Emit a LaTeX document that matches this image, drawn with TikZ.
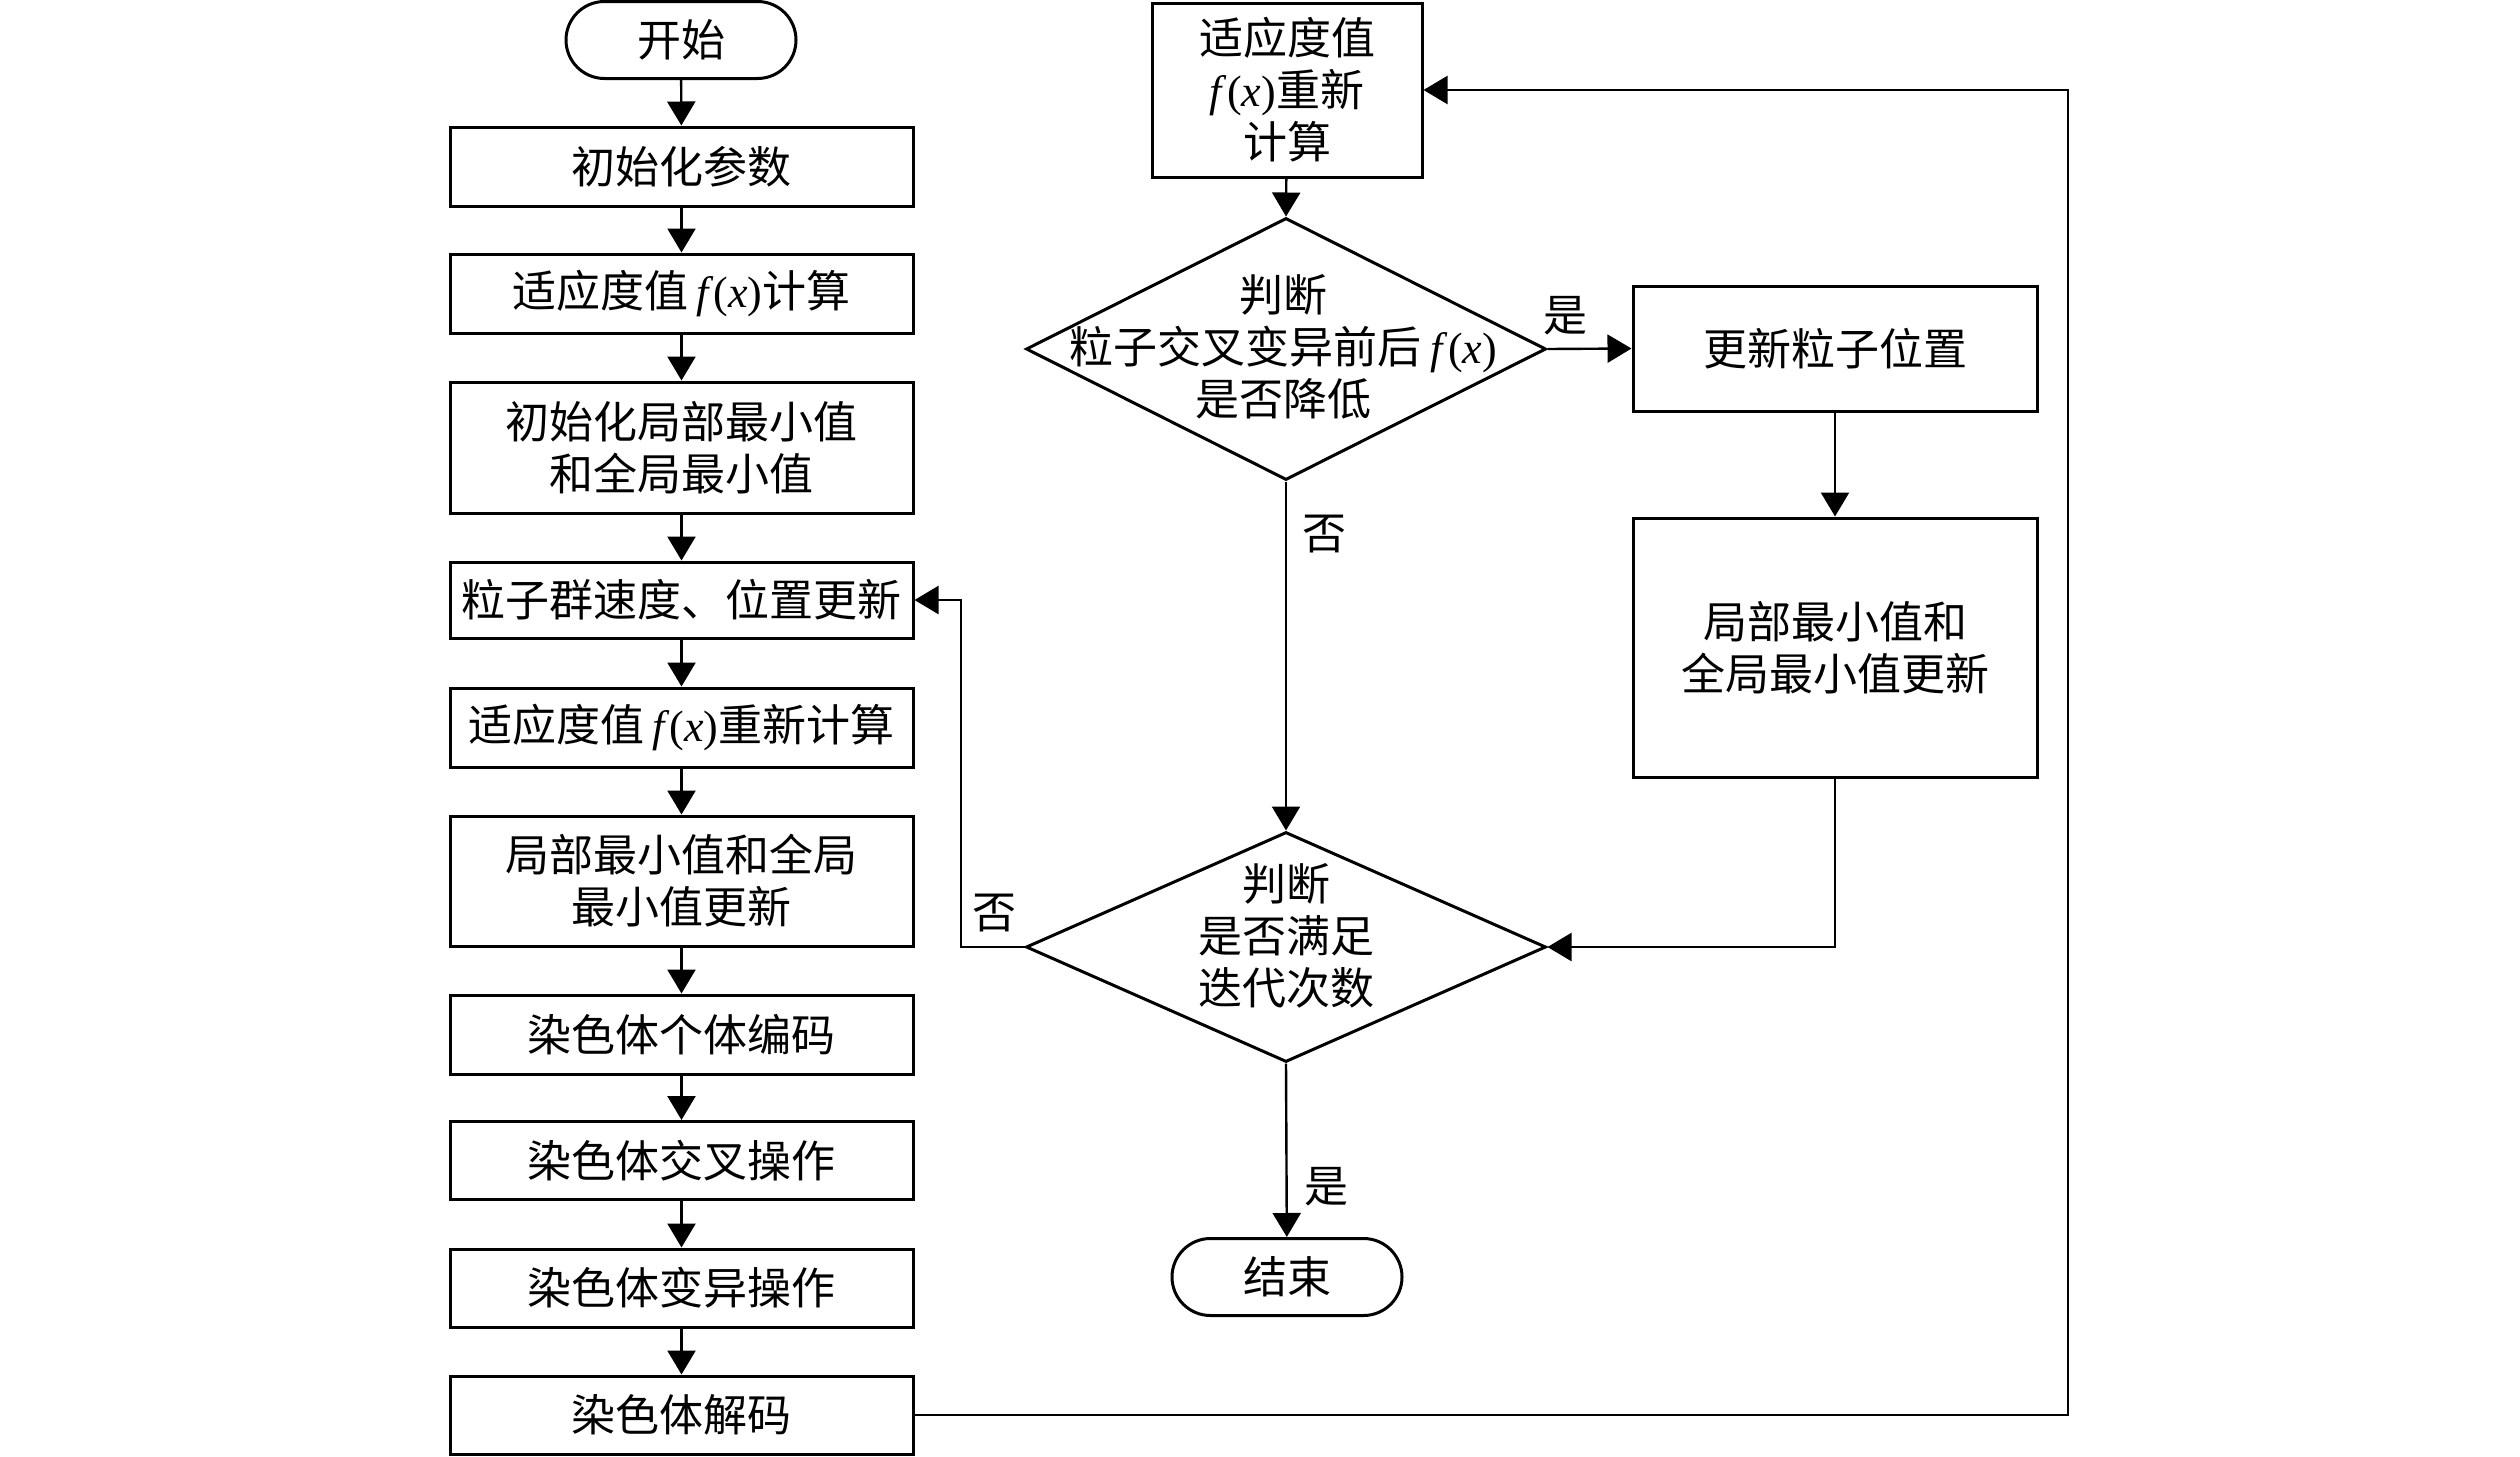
\documentclass[tikz,border=0pt]{standalone}
\usepackage{fontspec}
\setmainfont{Liberation Serif}
\newfontfamily\cjk{Noto Sans CJK SC}
\usetikzlibrary{arrows.meta,shapes.geometric,shapes.misc}
\newcommand{\fxv}{{\rmfamily\itshape f\/}{\rmfamily(}{\rmfamily\itshape x}{\rmfamily)}}
\tikzset{
  txt/.style={font=\fontsize{22pt}{26pt}\selectfont\cjk, align=center, inner sep=0pt},
  box/.style={txt, draw, line width=1.5pt, minimum width=231.5pt},
  term/.style={txt, draw, line width=1.5pt, rounded rectangle, minimum width=115pt, minimum height=38.5pt},
  dia/.style={draw, line width=1.5pt, diamond, inner sep=0pt, minimum width=260pt},
  arr/.style={line width=1.2pt, -{Triangle[length=12pt,width=14pt]}},
  ln/.style={line width=1.2pt}
}
\begin{document}
\begin{tikzpicture}[x=0.5pt,y=-0.5pt]
\fill[white] (0,0) rectangle (2520,1456);
\useasboundingbox (0,0) rectangle (2520,1456);
% left column
\node[term] (start) at (681,40) {开始};
\node[box, minimum height=39.5pt] (b1) at (681.5,166.5) {初始化参数};
\node[box, minimum height=39.5pt] (b2) at (681.5,293.5) {适应度值\,{\fxv}计算};
\node[box, minimum height=65.5pt] (b3) at (681.5,447.5) {初始化局部最小值\\和全局最小值};
\node[box, minimum height=38pt] (b4) at (681.5,600) {粒子群速度、位置更新};
\node[box, minimum height=39.5pt] (b5) at (681.5,727.5) {适应度值\,{\fxv}重新计算};
\node[box, minimum height=65pt] (b6) at (681.5,881) {局部最小值和全局\\最小值更新};
\node[box, minimum height=39.5pt] (b7) at (681.5,1034.5) {染色体个体编码};
\node[box, minimum height=39pt] (b8) at (681.5,1160.5) {染色体交叉操作};
\node[box, minimum height=39pt] (b9) at (681.5,1288) {染色体变异操作};
\node[box, minimum height=39pt] (b10) at (681.5,1415) {染色体解码};
% right part
\node[box, minimum width=135pt, minimum height=87pt] (r0) at (1287,90) {适应度值\\{\fxv}重新\\计算};
\node[dia, minimum height=131pt] (d1) at (1286,349) {};
\node[txt] (d1t) at (1283,347) {判断\\粒子交叉变异前后 {\fxv}\\是否降低};
\node[box, minimum width=202pt, minimum height=62.5pt] (r1) at (1835,348.5) {更新粒子位置};
\node[box, minimum width=202pt, minimum height=129.5pt] (r2) at (1835,647.5) {局部最小值和\\全局最小值更新};
\node[dia, minimum height=115pt] (d2) at (1286,947) {};
\node[txt] (d2t) at (1286,936) {判断\\是否满足\\迭代次数};
\node[term] (end) at (1287,1277) {结束};
\coordinate (lx) at (961,0);
\coordinate (rx) at (2068,0);
% labels
\node[txt] (l1) at (1565,316) {是};
\node[txt] (l2) at (1324,534) {否};
\node[txt] (l3) at (994,913) {否};
\node[txt] (l4) at (1326,1187) {是};
% connectors
\draw[arr] (start) -- (b1);
\draw[arr] (b1) -- (b2);
\draw[arr] (b2) -- (b3);
\draw[arr] (b3) -- (b4);
\draw[arr] (b4) -- (b5);
\draw[arr] (b5) -- (b6);
\draw[arr] (b6) -- (b7);
\draw[arr] (b7) -- (b8);
\draw[arr] (b8) -- (b9);
\draw[arr] (b9) -- (b10);
\draw[arr] (r0) -- (d1.north);
\draw[arr] (d1.east) -- (r1.west);
\draw[arr] (r1) -- (r2);
\draw[arr] (d1.south) -- (d2.north);
\draw[arr] (r2.south) |- (d2.east);
\draw[arr] (d2.west) -- (d2.west -| lx) |- (b4.east);
\draw[arr] (d2.south) -- (end);
\draw[arr] (b10.east) -- (b10.east -| rx) |- (r0.east);
\end{tikzpicture}
\end{document}
